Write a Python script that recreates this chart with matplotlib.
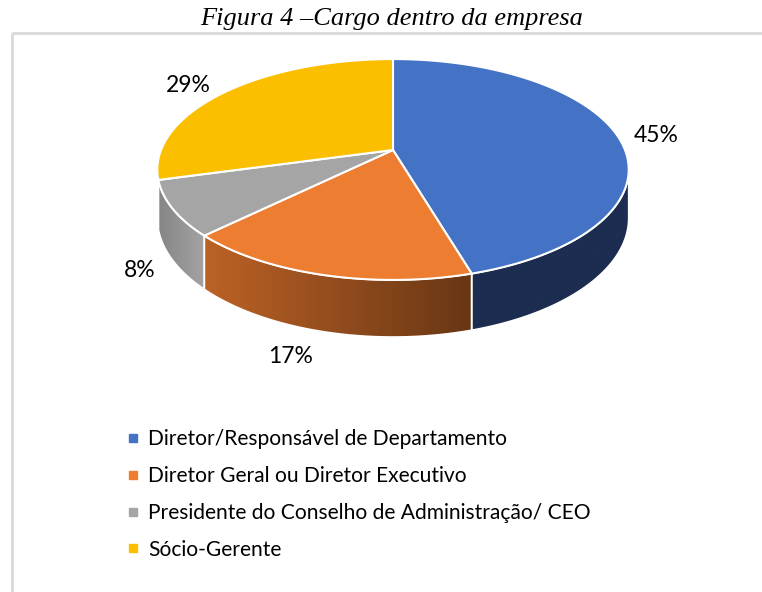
import numpy as np
import matplotlib.pyplot as plt
from matplotlib.patches import Polygon, Rectangle
from matplotlib.lines import Line2D
from matplotlib.colors import LinearSegmentedColormap

title = "Figura 4 –Cargo dentro da empresa"
categories = [
    "Diretor/Responsável de Departamento",
    "Diretor Geral ou Diretor Executivo",
    "Presidente do Conselho de Administração/ CEO",
    "Sócio-Gerente",
]
values = [45, 17, 8, 29]
labels = ["45%", "17%", "8%", "29%"]

top_colors = ["#4472C4", "#ED7D31", "#A5A5A5", "#FBBF00"]
wall_colors = [("#1C2D50", "#1C2D50"), ("#BC6226", "#683614"),
               ("#858585", "#A3A3A3"), ("#B08600", "#B08600")]
# pixel nudges of the data labels away from their rim anchor
label_nudge = [(39, 0), (-32, 25), (-33, 10), (-38, -6)]

# projection of the tilted disc (pixel units, y down)
CX, CY = 393, 150
SX, SY = 232, 107
K = 0.1765
T = 47


def proj(phi, r=1.0, h=0.0):
    u = r * np.sin(phi)
    v = -r * np.cos(phi)
    w = 1 - K * v
    return CX + SX * u / w, CY + (SY * v + h) / w


fig = plt.figure(figsize=(7.62, 5.92), dpi=100)
ax = fig.add_axes([0, 0, 1, 1])
ax.set_xlim(0, 762)
ax.set_ylim(592, 0)
ax.axis("off")

ax.add_patch(Rectangle((11.5, 33), 800, 600, fill=False, edgecolor="#D9D9D9", lw=2))
ax.text(392, 19, title, ha="center", va="center", fontsize=19,
        family="Liberation Serif", style="italic")

fr = np.array(values, dtype=float) / sum(values)
edges = np.concatenate([[0], np.cumsum(fr)]) * 2 * np.pi
sil = np.arccos(-K)  # silhouette angles
vis_a, vis_b = sil, 2 * np.pi - sil

# front walls
for i in range(len(values)):
    a, b = max(edges[i], vis_a), min(edges[i + 1], vis_b)
    if b <= a:
        continue
    ph = np.linspace(a, b, 100)
    xt, yt = proj(ph)
    xb, yb = proj(ph, h=T)
    pts = np.column_stack([np.concatenate([xt, xb[::-1]]), np.concatenate([yt, yb[::-1]])])
    poly = Polygon(pts, closed=True, facecolor="none", edgecolor="white", lw=1.2, zorder=3)
    ax.add_patch(poly)
    cmap = LinearSegmentedColormap.from_list("w%d" % i, wall_colors[i])
    grad = np.linspace(0, 1, 256).reshape(1, -1)
    im = ax.imshow(grad, cmap=cmap, extent=(pts[:, 0].min(), pts[:, 0].max(),
                   pts[:, 1].max(), pts[:, 1].min()), zorder=2, interpolation="bicubic")
    im.set_clip_path(poly)

# top faces
for i in range(len(values)):
    ph = np.linspace(edges[i], edges[i + 1], 200)
    xt, yt = proj(ph)
    pts = np.column_stack([np.concatenate([[CX], xt]), np.concatenate([[CY], yt])])
    ax.add_patch(Polygon(pts, closed=True, facecolor=top_colors[i], edgecolor="white",
                         lw=1.5, zorder=4))

# data labels
for i in range(len(values)):
    mid = (edges[i] + edges[i + 1]) / 2
    lx, ly = proj(mid, h=T if -np.cos(mid) > 0.3 else 0)
    dx, dy = label_nudge[i]
    ax.text(lx + dx, ly + dy, labels[i], ha="center", va="center", fontsize=16.5,
            family="Lato", color="#000000", zorder=5)

ax.set_aspect("auto")
ax.set_xlim(0, 762)
ax.set_ylim(592, 0)

handles = [Line2D([], [], marker="s", linestyle="none", markersize=6,
                  markerfacecolor=c, markeredgecolor=c) for c in top_colors]
fig.legend(handles, categories, loc="upper left", bbox_to_anchor=(118 / 762, 1 - 421 / 592),
           frameon=False, prop={"family": "Lato", "size": 15.1}, labelspacing=0.8,
           handlelength=0.6, handletextpad=0.45, borderaxespad=0)

fig.savefig("out.png", dpi=100)
